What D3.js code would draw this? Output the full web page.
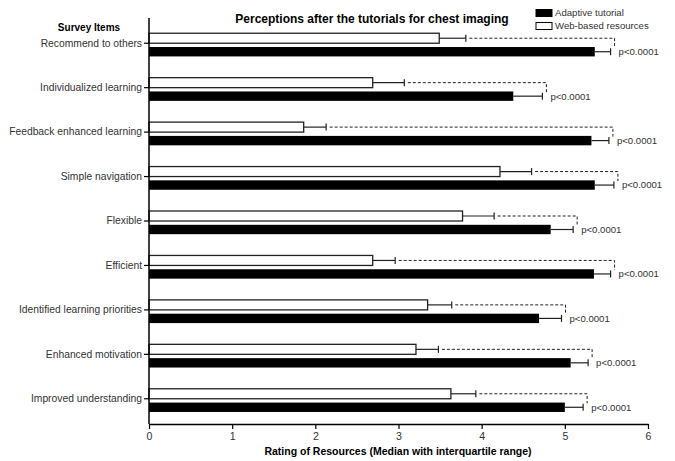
<html lang="en">
<head>
<meta charset="utf-8">
<title>Perceptions after the tutorials for chest imaging</title>
<script src="https://cdn.jsdelivr.net/npm/d3@7/dist/d3.min.js"></script>
<style>
  body { margin: 0; background: #fff; }
  svg text { font-family: "Liberation Sans", Arial, sans-serif; }
</style>
</head>
<body>
<script>
var items = ["Recommend to others", "Individualized learning", "Feedback enhanced learning",
             "Simple navigation", "Flexible", "Efficient", "Identified learning priorities",
             "Enhanced motivation", "Improved understanding"];
// medians and upper quartiles
var webMedian      = [3.49, 2.69, 1.86, 4.22, 3.77, 2.69, 3.35, 3.21, 3.63];
var webQ3          = [3.81, 3.07, 2.13, 4.60, 4.15, 2.96, 3.64, 3.48, 3.93];
var adaptiveMedian = [5.36, 4.38, 5.32, 5.36, 4.83, 5.35, 4.69, 5.07, 5.00];
var adaptiveQ3     = [5.55, 4.73, 5.53, 5.59, 5.10, 5.55, 4.96, 5.28, 5.22];
var pValues = ["p<0.0001", "p<0.0001", "p<0.0001", "p<0.0001", "p<0.0001",
               "p<0.0001", "p<0.0001", "p<0.0001", "p<0.0001"];
var xTicks = [0, 1, 2, 3, 4, 5, 6];
var legendLabels = ["Adaptive tutorial", "Web-based resources"];

var w = 675, h = 461;
var svg = d3.select("body").append("svg").attr("width", w).attr("height", h);

var x = d3.scaleLinear().domain([0, 6]).range([149, 648]);
var y = d3.scaleBand().domain(items).range([21, 421]);
function mid(d) { return y(d) + y.bandwidth() / 2; }

var rows = items.map(function(d, i) {
    return {item: d, wm: webMedian[i], wq: webQ3[i], am: adaptiveMedian[i], aq: adaptiveQ3[i], p: pValues[i]};
});

// bars
var g = svg.append("g").selectAll("g").data(rows).enter().append("g");

g.append("rect")
    .attr("x", x(0))
    .attr("y", function(d) { return mid(d.item) - 10; })
    .attr("width", function(d) { return x(d.wm) - x(0); })
    .attr("height", 10)
    .attr("fill", "#fff")
    .attr("stroke", "#222")
    .attr("stroke-width", 1.3);

g.append("rect")
    .attr("x", x(0))
    .attr("y", function(d) { return mid(d.item) + 3.8; })
    .attr("width", function(d) { return x(d.am) - x(0); })
    .attr("height", 9.4)
    .attr("fill", "#000");

// error bars (median to upper quartile)
function errBar(sel, med, q3, off) {
    sel.append("line")
        .attr("x1", function(d) { return x(d[med]); })
        .attr("x2", function(d) { return x(d[q3]); })
        .attr("y1", function(d) { return mid(d.item) + off; })
        .attr("y2", function(d) { return mid(d.item) + off; })
        .attr("stroke", "#222").attr("stroke-width", 1.2);
    sel.append("line")
        .attr("x1", function(d) { return x(d[q3]); })
        .attr("x2", function(d) { return x(d[q3]); })
        .attr("y1", function(d) { return mid(d.item) + off - 3.5; })
        .attr("y2", function(d) { return mid(d.item) + off + 3.5; })
        .attr("stroke", "#222").attr("stroke-width", 1.2);
}
errBar(g, "wm", "wq", -5);
errBar(g, "am", "aq", 8.5);

// significance brackets
g.append("path")
    .attr("d", function(d) {
        var c = mid(d.item);
        var bx = x(d.aq) + 4;
        return "M" + (x(d.wq) + 3.5) + "," + (c - 5) + "H" + bx + "V" + (c + 4.5);
    })
    .attr("fill", "none")
    .attr("stroke", "#222")
    .attr("stroke-width", 1)
    .attr("stroke-dasharray", "3,2");

g.append("text")
    .attr("x", function(d) { return x(d.aq) + 8; })
    .attr("y", function(d) { return mid(d.item) + 8.5; })
    .attr("dy", "0.35em")
    .attr("font-size", "9.6px")
    .attr("fill", "#333")
    .text(function(d) { return d.p; });

// axes
var yAxis = svg.append("g")
    .attr("transform", "translate(149,0)")
    .call(d3.axisLeft(y).tickSize(5).tickPadding(2).tickSizeOuter(0));
yAxis.select(".domain").remove();
yAxis.selectAll("line").attr("stroke", "#000").attr("stroke-width", 1.2);
yAxis.selectAll("text").attr("font-size", "10.3px").attr("fill", "#333")
    .attr("font-family", "Liberation Sans, Arial, sans-serif");

svg.append("line")
    .attr("x1", 149).attr("x2", 149).attr("y1", 18).attr("y2", 424)
    .attr("stroke", "#000").attr("stroke-width", 1.5);

var xAxis = svg.append("g")
    .attr("transform", "translate(0,424)")
    .call(d3.axisBottom(x).tickValues(xTicks).tickFormat(d3.format("d"))
        .tickSize(5).tickPadding(3).tickSizeOuter(0));
xAxis.select(".domain").attr("stroke", "#000").attr("stroke-width", 1.5);
xAxis.selectAll("line").attr("stroke", "#000").attr("stroke-width", 1.2);
xAxis.selectAll("text").attr("font-size", "10.6px").attr("fill", "#333")
    .attr("font-family", "Liberation Sans, Arial, sans-serif");

// titles
svg.append("text")
    .attr("x", 372).attr("y", 23)
    .attr("text-anchor", "middle")
    .attr("font-size", "12px").attr("font-weight", "bold")
    .text("Perceptions after the tutorials for chest imaging");

svg.append("text")
    .attr("x", 89).attr("y", 31)
    .attr("text-anchor", "middle")
    .attr("font-size", "10px").attr("font-weight", "bold")
    .text("Survey Items");

svg.append("text")
    .attr("x", 398).attr("y", 455)
    .attr("text-anchor", "middle")
    .attr("font-size", "10.5px").attr("font-weight", "bold")
    .text("Rating of Resources (Median with interquartile range)");

// legend
var leg = svg.append("g").selectAll("g").data(legendLabels).enter().append("g")
    .attr("transform", function(d, i) { return "translate(536," + (9.5 + i * 13) + ")"; });
leg.append("rect")
    .attr("width", 16).attr("height", 7)
    .attr("fill", function(d, i) { return i === 0 ? "#000" : "#fff"; })
    .attr("stroke", "#000").attr("stroke-width", 1);
leg.append("text")
    .attr("x", 19).attr("y", 3.5).attr("dy", "0.35em")
    .attr("font-size", "9.6px").attr("fill", "#333")
    .text(function(d) { return d; });
</script>
</body>
</html>
